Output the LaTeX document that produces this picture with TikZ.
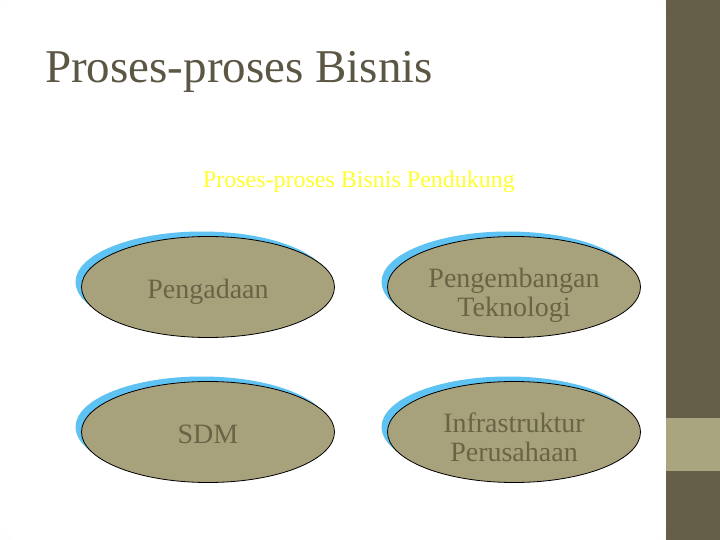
\documentclass[tikz,border=0pt]{standalone}
\usepackage{fontspec}
\setmainfont{Liberation Serif}
\usetikzlibrary{shapes.geometric, shadows}

\definecolor{olivedark}{HTML}{655E48}
\definecolor{olivelight}{HTML}{A9A57E}
\definecolor{ovalfill}{HTML}{A8A27C}
\definecolor{ovaltext}{HTML}{6A6446}
\definecolor{ovalblue}{HTML}{5EC2F2}
\definecolor{titletext}{HTML}{5C5644}
\definecolor{subyellow}{HTML}{FFFF30}

\pgfdeclareradialshading{vignette}{\pgfpoint{0bp}{0bp}}{%
  color(0bp)=(white); color(34bp)=(white); color(50bp)=(gray!10); color(72bp)=(gray!24)}

\tikzset{
  oval/.style={ellipse, draw=black, line width=0.8pt, fill=ovalfill,
    minimum width=253pt, minimum height=101pt, inner sep=0pt,
    text=ovaltext, font=\fontsize{28}{29}\selectfont, align=center,
    text height=28pt, text depth=6pt,
    general shadow={fill=ovalblue, shadow xshift=-6pt, shadow yshift=5pt}},
  twoline/.style={text height=64pt, text depth=6pt},
}

\begin{document}
\begin{tikzpicture}[x=1pt, y=-1pt]
  \useasboundingbox (0,0) rectangle (720,540);
  % background and side bar
  \shade[shading=vignette] (0,0) rectangle (666,540);
  \fill[olivedark] (666,0) rectangle (720,540);
  \fill[olivelight] (666,418) rectangle (720,471);
  % titles
  \node[anchor=base west, text=titletext, font=\fontsize{47}{50}\selectfont, inner sep=0pt] (title) at (45,83) {Proses-proses Bisnis};
  \node[anchor=base, text=subyellow, font=\fontsize{24}{28}\selectfont, inner sep=0pt] (sub) at (359,188) {Proses-proses Bisnis Pendukung};
  % ovals
  \node[oval] (pengadaan) at (208,287) {Pengadaan};
  \node[oval, twoline] (teknologi) at (514,287) {Pengembangan\\Teknologi};
  \node[oval] (sdm) at (208,432) {SDM};
  \node[oval, twoline] (infra) at (514,432) {Infrastruktur\\Perusahaan};
\end{tikzpicture}
\end{document}
